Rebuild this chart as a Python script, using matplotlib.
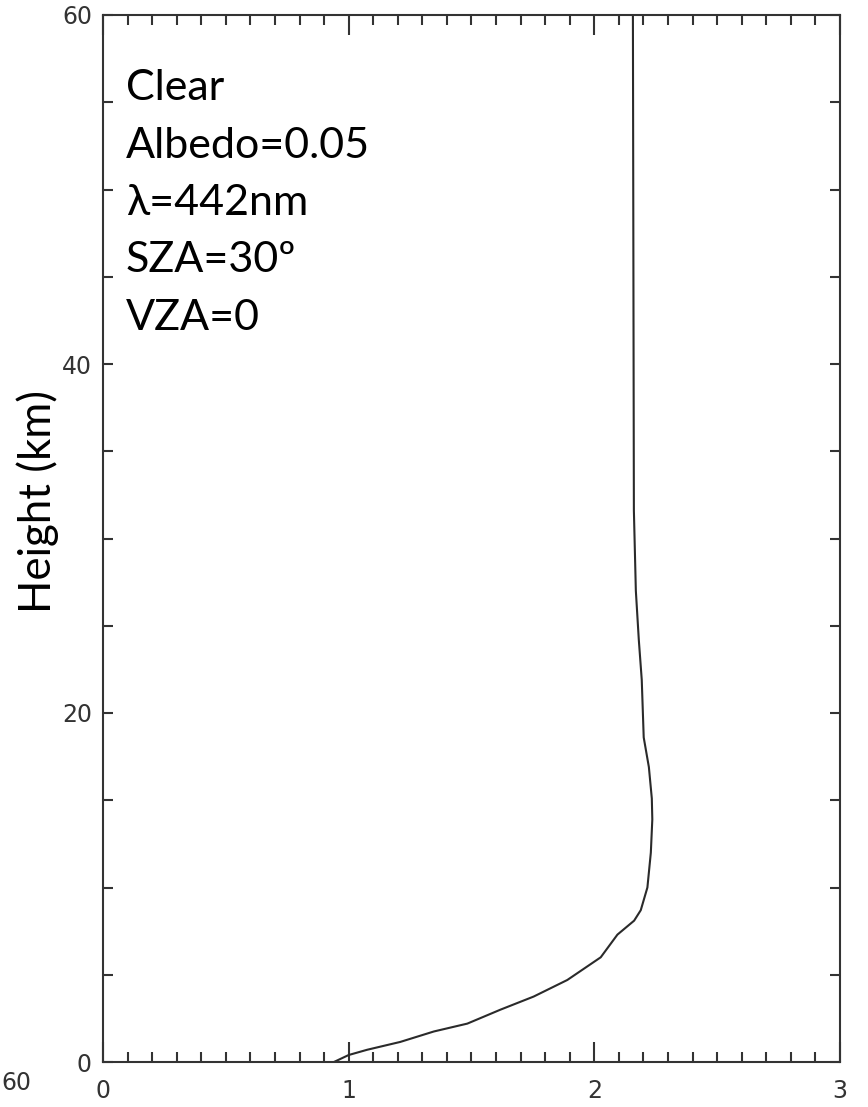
import numpy as np
import matplotlib
matplotlib.use("Agg")
import matplotlib.pyplot as plt
from matplotlib.ticker import MultipleLocator

# profile
height_km = [0.0, 0.4, 0.7, 1.15, 1.75, 2.2, 3.0, 3.75, 4.7, 6.0, 7.3, 8.1,
             8.7, 10.0, 12.0, 13.9, 15.1, 16.9, 18.6, 21.9, 24.2, 27.0, 31.6, 60.0]
value = [0.94, 1.0, 1.075, 1.21, 1.347, 1.483, 1.618, 1.753, 1.89, 2.026, 2.094, 2.162,
         2.189, 2.216, 2.23, 2.236, 2.234, 2.222, 2.201, 2.193, 2.181, 2.169, 2.161, 2.157]

info_lines = ["Clear", "Albedo=0.05", "\u03bb=442nm", "SZA=30\u00ba", "VZA=0"]
x_ticks = [0, 1, 2, 3]
y_ticks = [0, 20, 40, 60]

fig = plt.figure(figsize=(8.68, 11.07), dpi=100)
ax = fig.add_axes([103/868, 1 - 1062/1107, 737/868, 1047/1107])

ax.plot(value, height_km, color="#2a2a2a", lw=1.5)

ax.set_xlim(0, 3)
ax.set_ylim(0, 60)
ax.set_xticks(x_ticks)
ax.set_yticks(y_ticks)
ax.xaxis.set_minor_locator(MultipleLocator(0.1))
ax.yaxis.set_minor_locator(MultipleLocator(5))
ax.tick_params(axis="both", which="both", direction="in", top=True, right=True,
               color="#333333", width=1.5, labelcolor="#333333", labelsize=17)
ax.tick_params(axis="x", which="major", length=14.5, pad=12)
ax.tick_params(axis="x", which="minor", length=7.5)
ax.tick_params(axis="y", which="both", length=7.5, pad=8)
for s in ax.spines.values():
    s.set_linewidth(1.5)
    s.set_color("#333333")

ax.set_ylabel("Height (km)", family=["Lato", "DejaVu Sans"], fontsize=31.5)
ax.yaxis.set_label_coords(-0.06, 0.535)

for i, t in enumerate(info_lines):
    ax.text(126/868, 1 - (100 + 57.5*i)/1107, t, transform=fig.transFigure,
            family=["Lato", "DejaVu Sans"], fontsize=31, va="baseline", ha="left")

# tick label of the neighbouring panel, at the left edge
fig.text(1/868, 1 - 1083/1107, "60", ha="left", va="center",
         fontsize=17, color="#333333")

fig.savefig("out.png", dpi=100, facecolor="white")
